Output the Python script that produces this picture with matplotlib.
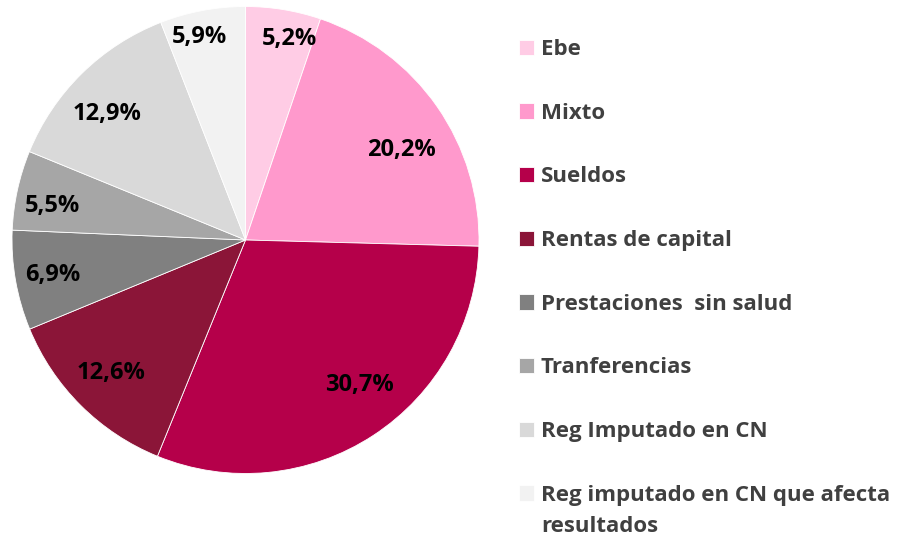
import matplotlib
matplotlib.use("Agg")
import matplotlib.pyplot as plt
import numpy as np

categories = ["Ebe", "Mixto", "Sueldos", "Rentas de capital", "Prestaciones  sin salud",
              "Tranferencias", "Reg Imputado en CN", "Reg imputado en CN que afecta"]
last_label_continuation = "resultados"
values = [5.2, 20.2, 30.7, 12.6, 6.9, 5.5, 12.9, 5.9]
colors = ["#FFCCE5", "#FF99CC", "#B5004A", "#8B1538", "#808080", "#A6A6A6", "#D9D9D9", "#F2F2F2"]
# label placement (style): radial factor and angular nudge in degrees
label_radius = [0.88, 0.77, 0.79, 0.81, 0.84, 0.84, 0.80, 0.89]
label_nudge = [-3.1, -5.0, 5.0, -0.5, 0.4, 2.4, 3.2, 2.3]

plt.rcParams['font.family'] = ['Open Sans', 'DejaVu Sans']

fig = plt.figure(figsize=(9.02, 5.37), dpi=100)
ax = fig.add_axes([12/902, 63.5/537, 467/902, 467/537])

wedges, texts = ax.pie(values, colors=colors, startangle=90, counterclock=False,
                       radius=1, wedgeprops=dict(edgecolor="white", linewidth=0.6))
ax.set_xlim(-1, 1)
ax.set_ylim(-1, 1)

for w, v, r, d in zip(wedges, values, label_radius, label_nudge):
    ang = np.deg2rad((w.theta1 + w.theta2) / 2 + d)
    ax.text(r * np.cos(ang), r * np.sin(ang), f"{v:.1f}%".replace(".", ","),
            ha="center", va="center", fontsize=17, fontweight="bold", color="black")

leg = fig.legend(wedges, categories, loc="upper left", bbox_to_anchor=(519/902, 1 - 39/537),
                 frameon=False, fontsize=16, handlelength=0.68, handleheight=0.68,
                 handletextpad=0.3, labelspacing=1.92, borderaxespad=0, borderpad=0)
for t in leg.get_texts():
    t.set_fontweight("bold")
    t.set_color("#404040")

# continuation line of the last (wrapped) legend entry, placed from the legend's own layout
fig.canvas.draw()
ext = leg.get_texts()[-1].get_window_extent()
fig.text(ext.x0 / fig.dpi / fig.get_figwidth(), (ext.y0 - 31 + ext.height / 2) / (fig.dpi * fig.get_figheight()),
         last_label_continuation, fontsize=16, fontweight="bold", color="#404040",
         ha="left", va="center")

fig.savefig("out.png", dpi=100)
